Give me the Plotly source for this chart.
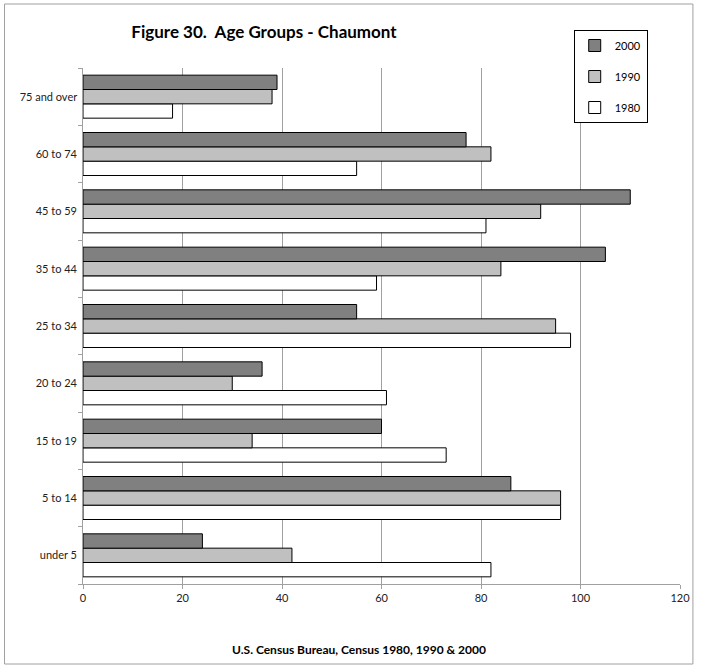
import plotly.graph_objects as go

# Dane: grupy wiekowe (od dołu do góry wykresu)
groups = ["under 5", "5 to 14", "15 to 19", "20 to 24", "25 to 34",
          "35 to 44", "45 to 59", "60 to 74", "75 and over"]
v1980 = [82, 96, 73, 61, 98, 59, 81, 55, 18]
v1990 = [42, 96, 34, 30, 95, 84, 92, 82, 38]
v2000 = [24, 86, 60, 36, 55, 105, 110, 77, 39]
x_ticks = [0, 20, 40, 60, 80, 100, 120]

# (nazwa, wartości, kolor, kolejność w legendzie)
series = [("1980", v1980, "white", 3), ("1990", v1990, "#c0c0c0", 2), ("2000", v2000, "#808080", 1)]

# obszar wykresu w pikselach
L, R, T, B = 83, 684, 68, 584
W, H = R - L, B - T

fig = go.Figure()
for name, vals, col, rank in series:
    fig.add_trace(go.Bar(
        y=groups, x=vals, name=name, orientation="h",
        marker=dict(color=col, line=dict(color="black", width=1)),
        legendgroup=name, legendrank=rank,
    ))

fig.update_layout(
    width=702, height=665,
    barmode="group", bargap=0.25, bargroupgap=0,
    plot_bgcolor="white", paper_bgcolor="white",
    margin=dict(l=L, r=702 - R, t=T, b=665 - B),
    font=dict(family="Lato, Open Sans, sans-serif", size=11, color="#222"),
    title=dict(text="<b>Figure 30.  Age Groups - Chaumont</b>", x=264 / 702, xanchor="center",
               y=1 - 32 / 665, yanchor="middle", font=dict(size=17, color="black")),
    legend=dict(x=(577 - L) / W, y=(B - 30) / H, xanchor="left", yanchor="top",
                bordercolor="black", borderwidth=1, bgcolor="white",
                traceorder="grouped", tracegroupgap=12,
                font=dict(size=11, color="black")),
    xaxis=dict(range=[0, 120], tickvals=x_ticks, showgrid=True, gridcolor="#a0a0a0",
               gridwidth=1, zeroline=False, showline=True, linecolor="#a0a0a0",
               ticks="outside", ticklen=4, tickcolor="#a0a0a0", fixedrange=True),
    yaxis=dict(categoryorder="array", categoryarray=groups, showline=True,
               linecolor="#a0a0a0", ticks="outside", tickson="boundaries", ticklen=4,
               tickcolor="#a0a0a0", showgrid=False, ticksuffix=" ", fixedrange=True),
    annotations=[dict(text="<b>U.S. Census Bureau, Census 1980, 1990 & 2000</b>",
                      xref="paper", yref="paper", x=(361 - L) / W, y=-(649 - B) / H,
                      xanchor="center", yanchor="middle", showarrow=False,
                      font=dict(size=12, color="black"))],
    shapes=[dict(type="rect", xref="paper", yref="paper",
                 x0=(4 - L) / W, x1=(697 - L) / W, y0=-(664 - B) / H, y1=(B - 4) / H,
                 line=dict(color="#a0a0a0", width=1))],
)

fig.write_html("out.html", config={"displayModeBar": False},
               post_script="document.body.style.margin='0';")
